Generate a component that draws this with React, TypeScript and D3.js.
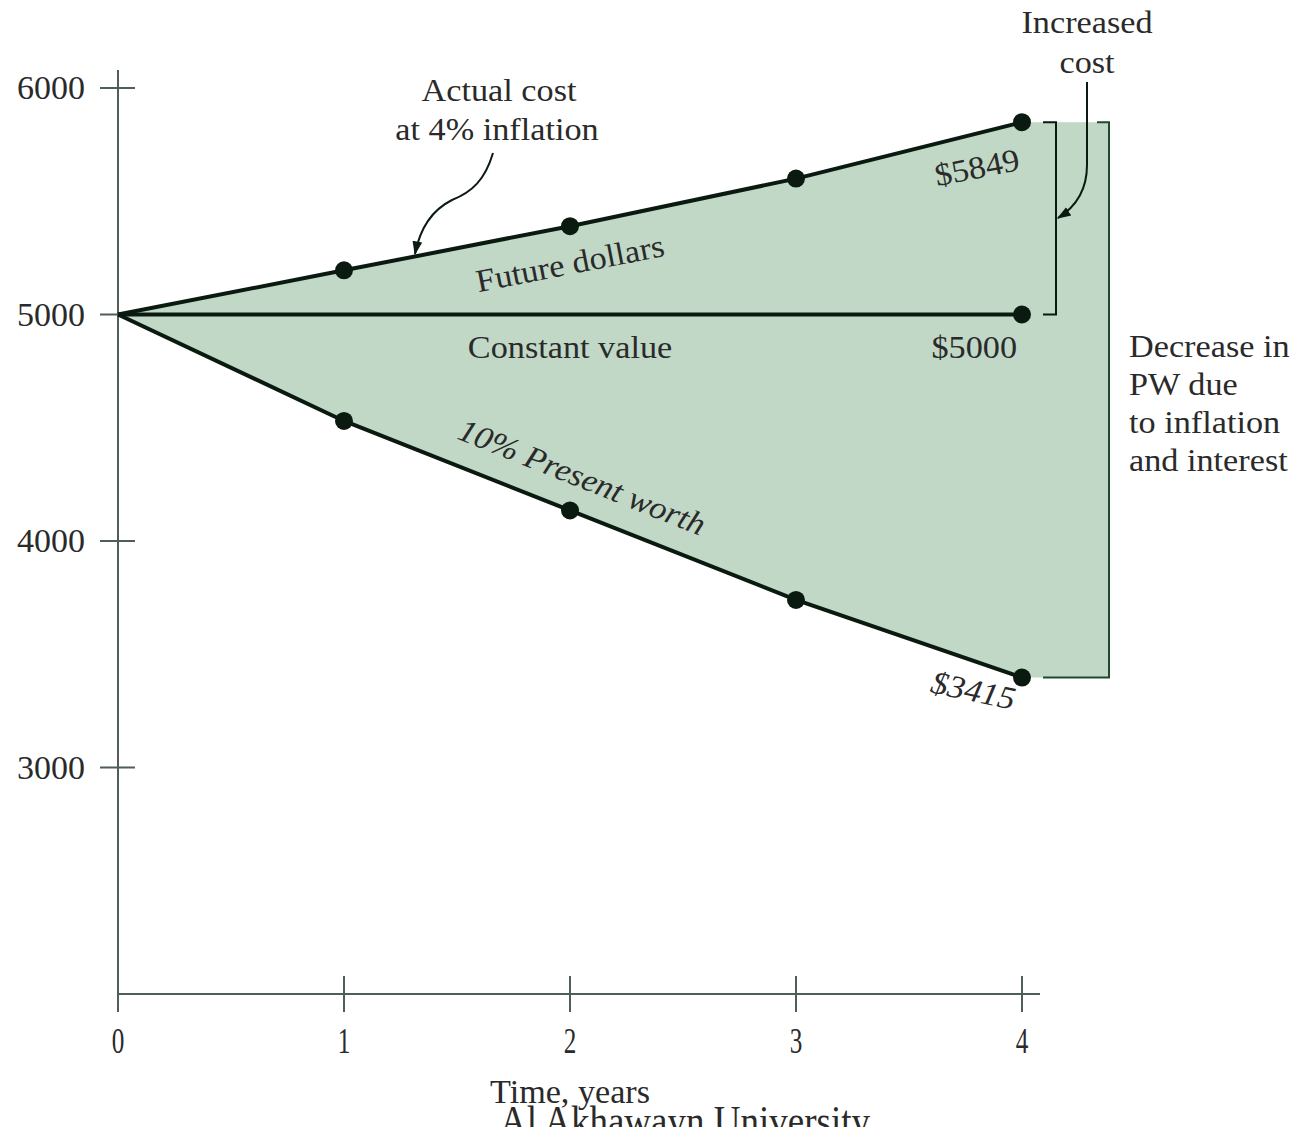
import React from "react";
import * as d3 from "d3";

const years = [0, 1, 2, 3, 4];
const futureDollars = [5000, 5195, 5390, 5600, 5849];
const constantValue = [5000, 5000, 5000, 5000, 5000];
const presentWorth = [5000, 4530, 4135, 3740, 3397];
const yTicks = [3000, 4000, 5000, 6000];
const xTicks = [0, 1, 2, 3, 4];
const decreaseLines = ["Decrease in", "PW due", "to inflation", "and interest"];

const W = 1293;
const H = 1127;
const FONT = "'Liberation Serif', 'Times New Roman', serif";
const FILL = "#c1d8c6";
const INK = "#0b1a10";
const AXIS = "#4f5f56";
const TEXT = "#2a2a2a";

type TProps = {
  x: number;
  y: number;
  anchor?: "start" | "middle" | "end";
  rot?: number;
  size?: number;
  sx?: number;
  italic?: boolean;
  children: React.ReactNode;
};

function T({ x, y, anchor = "middle", rot = 0, size = 32, sx = 1.07, italic, children }: TProps) {
  return (
    <g transform={`translate(${x},${y}) rotate(${rot}) scale(${sx},1)`}>
      <text
        x={0}
        y={0}
        textAnchor={anchor}
        fontSize={size}
        fontStyle={italic ? "italic" : "normal"}
        fill={TEXT}
      >
        {children}
      </text>
    </g>
  );
}

export default function App() {
  const x = d3.scaleLinear().domain([0, 4]).range([118, 1022]);
  const y = d3.scaleLinear().domain([2000, 6000]).range([994, 88]);
  const line = d3
    .line<number>()
    .x((_, i) => x(years[i]))
    .y((d) => y(d));

  const bracketX = 1109;
  const incX = 1056;
  const fillPts: [number, number][] = [
    ...futureDollars.map((v, i) => [x(years[i]), y(v)] as [number, number]),
    [bracketX, y(futureDollars[4])],
    [bracketX, y(presentWorth[4])],
    ...presentWorth
      .map((v, i) => [x(years[i]), y(v)] as [number, number])
      .reverse(),
  ];
  const area = d3.line()(fillPts) + "Z";

  const series = [futureDollars, constantValue, presentWorth];

  return (
    <svg
      width={W}
      height={H}
      style={{ position: "absolute", left: 0, top: 0, background: "#fff" }}
      fontFamily={FONT}
    >
      <defs>
        <marker
          id="ah2"
          viewBox="0 0 10 10"
          refX="9"
          refY="5"
          markerWidth="14"
          markerHeight="14"
          orient="auto"
          markerUnits="userSpaceOnUse"
        >
          <path d="M0,1.5 L10,5 L0,8.5 Z" fill={INK} />
        </marker>
      </defs>

      {/* green fill */}
      <path d={area} fill={FILL} />

      {/* axes */}
      <line x1={x(0)} x2={x(0)} y1={70} y2={y(2000)} stroke={AXIS} strokeWidth={2} />
      <line x1={x(0)} x2={1040} y1={y(2000)} y2={y(2000)} stroke={AXIS} strokeWidth={2} />
      {yTicks.map((t) => (
        <g key={"y" + t}>
          <line x1={100} x2={135} y1={y(t)} y2={y(t)} stroke={AXIS} strokeWidth={2} />
          <text x={85} y={y(t) + 11} textAnchor="end" fontSize={34} fill={TEXT}>
            {t}
          </text>
        </g>
      ))}
      {xTicks.map((t) => (
        <g key={"x" + t}>
          <line
            x1={x(t)}
            x2={x(t)}
            y1={t > 0 ? 976 : 994}
            y2={1012}
            stroke={AXIS}
            strokeWidth={2}
          />
          <T x={x(t)} y={1053} size={35} sx={0.72}>
            {t}
          </T>
        </g>
      ))}
      <text
        x={570}
        y={1103}
        textAnchor="middle"
        fontSize={33}
        fill={TEXT}
        textLength={160}
        lengthAdjust="spacingAndGlyphs"
      >
        Time, years
      </text>
      <text
        x={685}
        y={1135}
        textAnchor="middle"
        fontSize={42}
        fill={TEXT}
        textLength={370}
        lengthAdjust="spacingAndGlyphs"
      >
        Al Akhawayn University
      </text>

      {/* series lines */}
      {series.map((s, k) => (
        <path key={"l" + k} d={line(s) || ""} fill="none" stroke={INK} strokeWidth={4} />
      ))}
      {[futureDollars, presentWorth].map((s, k) =>
        s.slice(1).map((v, i) => (
          <circle key={`d${k}-${i}`} cx={x(years[i + 1])} cy={y(v)} r={9} fill={INK} />
        ))
      )}
      <circle cx={x(4)} cy={y(constantValue[4])} r={9} fill={INK} />

      {/* increased cost bracket */}
      <path
        d={`M${incX - 13},${y(futureDollars[4])} H${incX} V${y(5000)} H${incX - 13}`}
        fill="none"
        stroke={INK}
        strokeWidth={2}
      />
      {/* decrease in PW bracket */}
      <path
        d={`M${bracketX - 12},${y(futureDollars[4])} H${bracketX} V${y(presentWorth[4])} H${1043}`}
        fill="none"
        stroke="#1f4a2c"
        strokeWidth={2}
      />

      {/* annotations */}
      <T x={1087} y={33}>Increased</T>
      <T x={1087} y={73}>cost</T>
      <path
        d="M1087,82 L1087,165 C1087,192 1074,208 1058,218"
        fill="none"
        stroke={INK}
        strokeWidth={2}
        markerEnd="url(#ah2)"
      />

      <T x={499} y={101}>Actual cost</T>
      <T x={497} y={140}>at 4% inflation</T>
      <path
        d="M493,153 C485,180 472,192 452,200 C432,210 420,228 415,254"
        fill="none"
        stroke={INK}
        strokeWidth={2}
        markerEnd="url(#ah2)"
      />

      <T x={572} y={274} rot={-11}>Future dollars</T>
      <T x={570} y={358}>Constant value</T>
      <T x={1017} y={358} anchor="end">$5000</T>
      <T x={979} y={178} rot={-11}>$5849</T>
      <T x={578} y={487} rot={21.8} italic>
        10% Present worth
      </T>
      <T x={971} y={701} rot={12} italic>
        $3415
      </T>

      {decreaseLines.map((s, i) => (
        <T key={s} x={1129} y={357 + i * 38} anchor="start">
          {s}
        </T>
      ))}
    </svg>
  );
}
